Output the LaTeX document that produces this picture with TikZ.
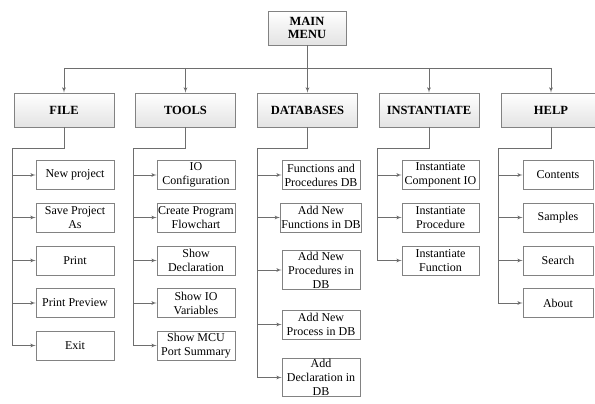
\documentclass[tikz,border=0pt]{standalone}
\usepackage{fontspec}
\setmainfont{Liberation Serif}
\usetikzlibrary{positioning,arrows}
\definecolor{linegray}{RGB}{110,110,110}
\definecolor{boxgray}{RGB}{130,130,130}

\begin{document}
\begin{tikzpicture}[x=1pt, y=-1pt,
    topbox/.style={rectangle, draw=boxgray, line width=0.8pt, top color=white, bottom color=gray!22, minimum width=100, minimum height=34, inner sep=1pt, align=center, font=\fontsize{12.5}{13.5}\selectfont\bfseries},
    subbox/.style={rectangle, draw=boxgray, line width=0.8pt, fill=white, minimum width=78, minimum height=29, inner sep=1pt, align=center, font=\fontsize{12}{14}\selectfont},
    conn/.style={draw=linegray, line width=0.8pt},
    arr/.style={conn, -latex'}]
    \path[use as bounding box] (0,0) rectangle (595,404);
    \clip (0,0) rectangle (595,404);

    \node[topbox, minimum width=78] (main) at (307,28) {MAIN\\MENU};
    \node[topbox] (file) at (64,110) {FILE};
    \node[topbox, right of=file, node distance=121.5] (tools) {TOOLS};
    \node[topbox, right of=tools, node distance=122] (databases) {DATABASES};
    \node[topbox, right of=databases, node distance=121.5] (instantiate) {INSTANTIATE};
    \node[topbox, right of=instantiate, node distance=122] (help) {HELP};

    % FILE
    \node[subbox] (newproject) at (75,175) {New project};
    \node[subbox] (saveas) at (75,217.5) {Save Project\\As};
    \node[subbox] (print) at (75,260.5) {Print};
    \node[subbox] (preview) at (75,303) {Print Preview};
    \node[subbox] (exit) at (75,345.5) {Exit};

    % TOOLS
    \node[subbox] (ioconf) at (196,175) {IO\\Configuration};
    \node[subbox] (flowchart) at (196,217.5) {Create Program\\Flowchart};
    \node[subbox] (showdecl) at (196,260.5) {Show\\Declaration};
    \node[subbox] (iovars) at (196,303) {Show IO\\Variables};
    \node[subbox] (mcuport) at (196,345.5) {Show MCU\\Port Summary};

    % DATABASES
    \node[subbox] (funcdb) at (321,175) {Functions and\\Procedures DB};
    \node[subbox] (addfunc) at (321,217.5) {Add New\\Functions in DB};
    \node[subbox] (addproc) at (321,270) {Add New\\Procedures in\\DB};
    \node[subbox] (addprocess) at (321,324.5) {Add New\\Process in DB};
    \node[subbox] (adddecl) at (321,377.5) {Add\\Declaration in\\DB};

    % INSTANTIATE
    \node[subbox, minimum width=77] (instcomp) at (440.5,175) {Instantiate\\Component IO};
    \node[subbox, minimum width=77] (instproc) at (440.5,217.5) {Instantiate\\Procedure};
    \node[subbox, minimum width=77] (instfunc) at (440.5,260.5) {Instantiate\\Function};

    % HELP
    \node[subbox, minimum width=70] (contents) at (558,175) {Contents};
    \node[subbox, minimum width=70] (samples) at (558,217.5) {Samples};
    \node[subbox, minimum width=70] (search) at (558,260.5) {Search};
    \node[subbox, minimum width=70] (about) at (558,303) {About};

    % main menu to top level
    \coordinate (bus) at (0,68);
    \path[conn] (main) -- (main |- bus);
    \path[conn] (file |- bus) -- (help |- bus);
    \foreach \n in {file,tools,databases,instantiate,help}
        \path[arr] (\n |- bus) -- (\n);

    % top level to sub menus
    \coordinate (filebus) at (12,148);
    \coordinate (toolsbus) at (133,148);
    \coordinate (databasesbus) at (257,148);
    \coordinate (instantiatebus) at (377,148);
    \coordinate (helpbus) at (498,148);
    \path[arr] (file) |- (filebus) |- (exit);
    \path[arr] (tools) |- (toolsbus) |- (mcuport);
    \path[arr] (databases) |- (databasesbus) |- (adddecl);
    \path[arr] (instantiate) |- (instantiatebus) |- (instfunc);
    \path[arr] (help) |- (helpbus) |- (about);
    \foreach \n in {newproject,saveas,print,preview}
        \path[arr] (filebus |- \n) -- (\n);
    \foreach \n in {ioconf,flowchart,showdecl,iovars}
        \path[arr] (toolsbus |- \n) -- (\n);
    \foreach \n in {funcdb,addfunc,addproc,addprocess}
        \path[arr] (databasesbus |- \n) -- (\n);
    \foreach \n in {instcomp,instproc}
        \path[arr] (instantiatebus |- \n) -- (\n);
    \foreach \n in {contents,samples,search}
        \path[arr] (helpbus |- \n) -- (\n);
\end{tikzpicture}
\end{document}
